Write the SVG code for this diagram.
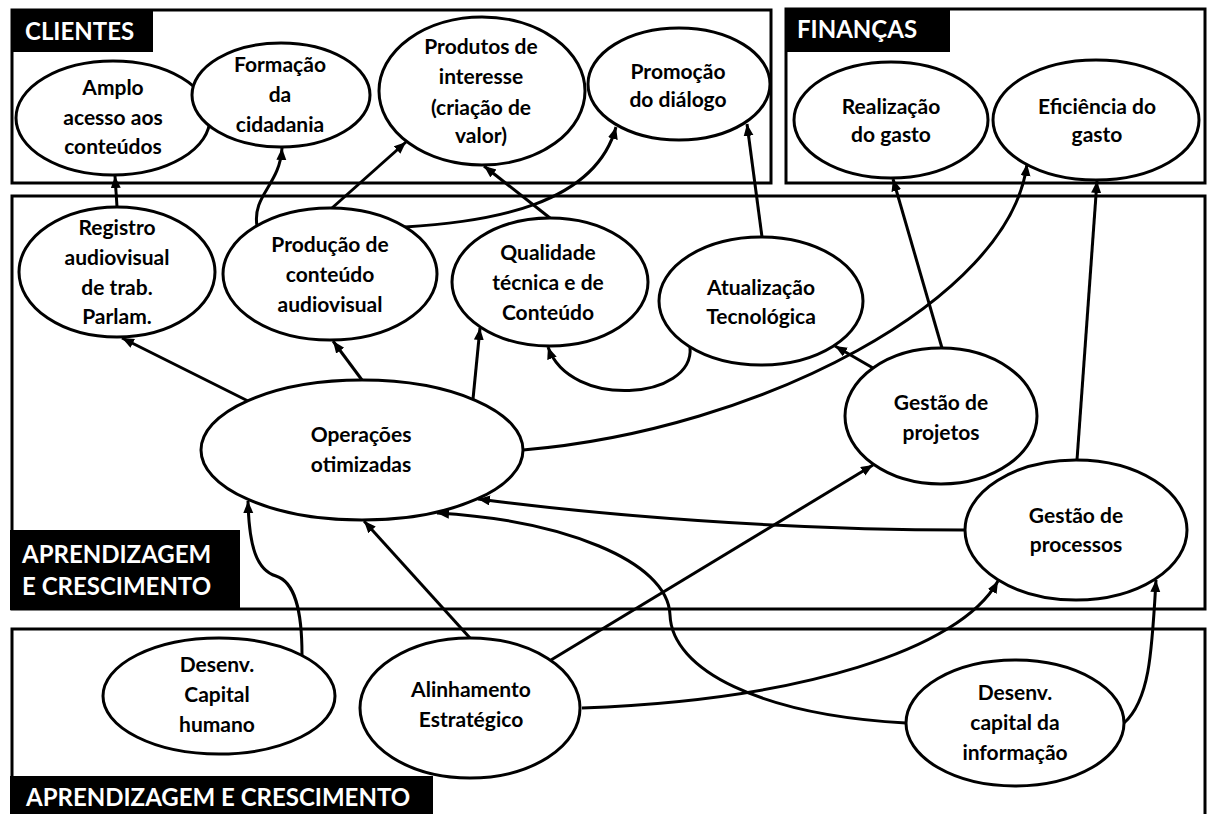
<svg xmlns="http://www.w3.org/2000/svg" width="1207" height="814" viewBox="0 0 1207 814">
<defs>
<marker id="arr" markerUnits="userSpaceOnUse" markerWidth="13" markerHeight="11" refX="12" refY="5" orient="auto">
<path d="M0,0 L12,5 L0,10 z" fill="#000"/>
</marker>
<style>
.panel{fill:none;stroke:#000;stroke-width:3}
.lbl{fill:#000}
.lt{font-family:Lato,"Open Sans","Liberation Sans",sans-serif;font-weight:bold;font-size:24px;fill:#fff}
.node ellipse{fill:#fff;stroke:#000;stroke-width:3}
.node text{font-family:Lato,"Open Sans","Liberation Sans",sans-serif;font-weight:bold;font-size:21px;fill:#000;text-anchor:middle}
#edges path{fill:none;stroke:#000;stroke-width:3;marker-end:url(#arr)}
</style>
</defs>
<rect width="1207" height="814" fill="#fff"/>
<g id="panels">
<rect class="panel" x="12" y="10" width="759" height="173"/>
<rect class="lbl" x="11" y="9" width="142" height="43"/>
<text class="lt" x="25" y="40">CLIENTES</text>
<rect class="panel" x="786" y="9" width="419" height="174"/>
<rect class="lbl" x="785" y="8" width="165" height="44"/>
<text class="lt" x="797" y="38">FINANÇAS</text>
<rect class="panel" x="12" y="196" width="1193" height="413"/>
<rect class="lbl" x="10" y="530" width="230" height="80"/>
<text class="lt" x="22" y="563">APRENDIZAGEM</text>
<text class="lt" x="22" y="595">E CRESCIMENTO</text>
<rect class="panel" x="12" y="629" width="1193" height="190"/>
<rect class="lbl" x="10" y="776" width="423" height="40"/>
<text class="lt" x="26" y="806">APRENDIZAGEM E CRESCIMENTO</text>
</g>
<g id="edges">
<path d="M117,207 L115,176"/>
<path d="M257,226 C252,195 280,185 282,148"/>
<path d="M332,208 L406,142"/>
<path d="M405,227 C490,222 595,205 616,127"/>
<path d="M550,218 L484,166"/>
<path d="M762,237 L747,124"/>
<path d="M690,347 C695,400 570,410 548,347"/>
<path d="M248,401 L122,338"/>
<path d="M362,380 L333,341"/>
<path d="M473,399 L480,328"/>
<path d="M523,450 C760,430 1010,300 1027,164"/>
<path d="M873,368 L835,346"/>
<path d="M942,348 L893,179"/>
<path d="M1077,460 L1097,181"/>
<path d="M965,530 C780,530 600,515 478,499"/>
<path d="M470,638 L364,521"/>
<path d="M551,660 L873,465"/>
<path d="M582,708 C800,700 960,650 998,581"/>
<path d="M302,655 C302,610 295,582 276,576 C256,570 249,545 248,501"/>
<path d="M906,723 C760,715 672,670 670,615 C668,560 560,520 437,513"/>
<path d="M1124,723 C1150,700 1152,650 1156,580"/>
</g>
<g id="n-amplo" class="node"><ellipse cx="113" cy="118" rx="97" ry="57"/><text x="113" y="95">Amplo</text><text x="113" y="125">acesso aos</text><text x="113" y="154">conteúdos</text></g>
<g id="n-formacao" class="node"><ellipse cx="281" cy="95" rx="89" ry="52"/><text x="280" y="72">Formação</text><text x="280" y="102">da</text><text x="280" y="132">cidadania</text></g>
<g id="n-produtos" class="node"><ellipse cx="482" cy="91" rx="103" ry="74"/><text x="481" y="54">Produtos de</text><text x="481" y="84">interesse</text><text x="481" y="115">(criação de</text><text x="481" y="143">valor)</text></g>
<g id="n-promocao" class="node"><ellipse cx="679" cy="84" rx="91" ry="56"/><text x="678" y="79">Promoção</text><text x="678" y="107">do diálogo</text></g>
<g id="n-realizacao" class="node"><ellipse cx="891" cy="120" rx="97" ry="58"/><text x="891" y="114">Realização</text><text x="891" y="142">do gasto</text></g>
<g id="n-eficiencia" class="node"><ellipse cx="1096" cy="120" rx="103" ry="60"/><text x="1097" y="114">Eficiência do</text><text x="1097" y="142">gasto</text></g>
<g id="n-registro" class="node"><ellipse cx="117" cy="272" rx="98" ry="65"/><text x="117" y="235">Registro</text><text x="117" y="265">audiovisual</text><text x="117" y="295">de trab.</text><text x="117" y="324">Parlam.</text></g>
<g id="n-producao" class="node"><ellipse cx="330" cy="274" rx="107" ry="66"/><text x="330" y="252">Produção de</text><text x="330" y="282">conteúdo</text><text x="330" y="312">audiovisual</text></g>
<g id="n-qualidade" class="node"><ellipse cx="550" cy="282" rx="98" ry="64"/><text x="548" y="260">Qualidade</text><text x="548" y="290">técnica e de</text><text x="548" y="320">Conteúdo</text></g>
<g id="n-atualizacao" class="node"><ellipse cx="761" cy="301" rx="102" ry="64"/><text x="761" y="295">Atualização</text><text x="761" y="324">Tecnológica</text></g>
<g id="n-gprojetos" class="node"><ellipse cx="941" cy="416" rx="96" ry="68"/><text x="941" y="410">Gestão de</text><text x="941" y="440">projetos</text></g>
<g id="n-gprocessos" class="node"><ellipse cx="1076" cy="530" rx="111" ry="70"/><text x="1076" y="523">Gestão de</text><text x="1076" y="552">processos</text></g>
<g id="n-operacoes" class="node"><ellipse cx="362" cy="450" rx="161" ry="70"/><text x="361" y="442">Operações</text><text x="361" y="472">otimizadas</text></g>
<g id="n-dch" class="node"><ellipse cx="219" cy="696" rx="116" ry="58"/><text x="217" y="672">Desenv.</text><text x="217" y="702">Capital</text><text x="217" y="732">humano</text></g>
<g id="n-alinhamento" class="node"><ellipse cx="470" cy="708" rx="110" ry="70"/><text x="471" y="697">Alinhamento</text><text x="471" y="727">Estratégico</text></g>
<g id="n-dci" class="node"><ellipse cx="1015" cy="723" rx="109" ry="63"/><text x="1015" y="700">Desenv.</text><text x="1015" y="730">capital da</text><text x="1015" y="760">informação</text></g>
</svg>
